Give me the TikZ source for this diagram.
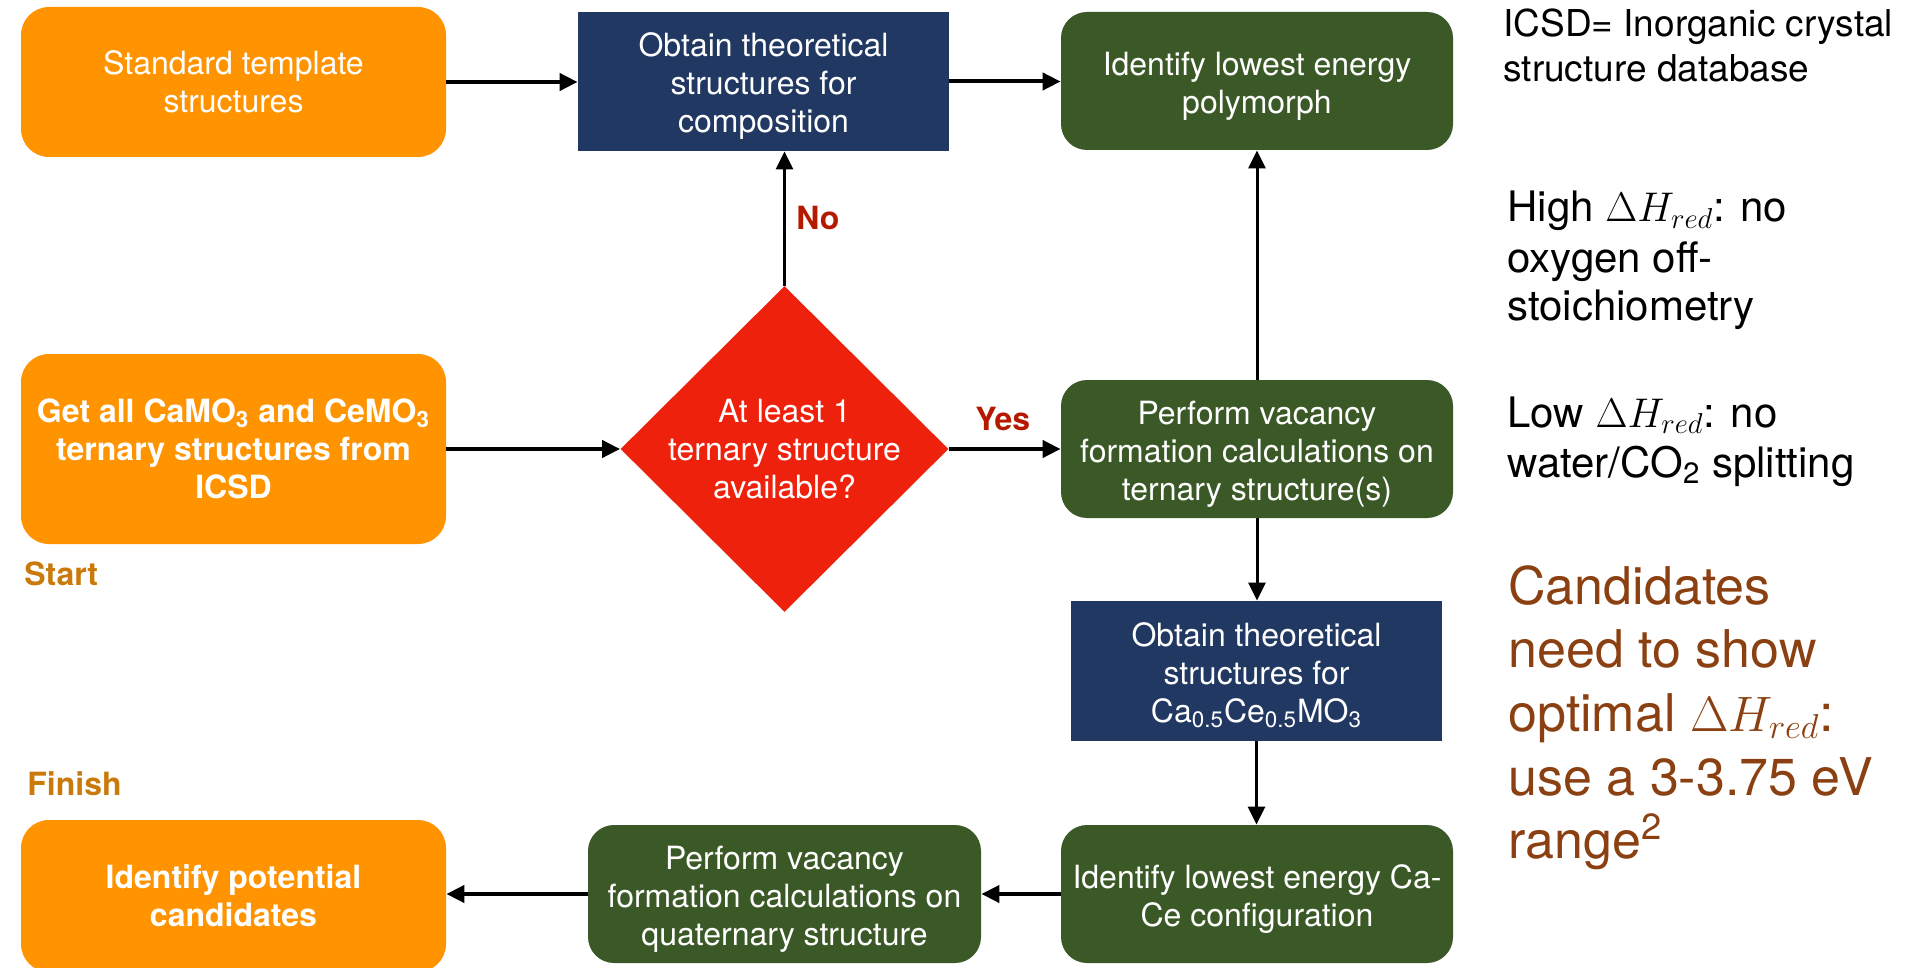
\documentclass[tikz,border=0pt]{standalone}
\usepackage{fontspec}
\setmainfont{TeX Gyre Heros}
\usetikzlibrary{arrows.meta,shapes.geometric}
\definecolor{corange}{HTML}{FF9300}
\definecolor{cblue}{HTML}{213862}
\definecolor{cgreen}{HTML}{3B5926}
\definecolor{cred}{HTML}{EE220C}
\definecolor{clabel}{HTML}{B51A00}
\definecolor{cstart}{HTML}{C97A0A}
\definecolor{cbrown}{HTML}{8B4011}
\newcommand\bxf{\fontsize{16}{19}\selectfont}
\newcommand\icsdf{\fontsize{18.5}{22.5}\selectfont}
\newcommand\hlf{\fontsize{21}{25}\selectfont}
\newcommand\candf{\fontsize{26}{31.5}\selectfont}
\newcommand\tstr{\rule{0pt}{16.5pt}}
\begin{document}
\begin{tikzpicture}[x=0.5pt,y=-0.5pt,
  base/.style={inner sep=0pt, text=white, align=center, font=\bxf},
  obox/.style={base, fill=corange, rounded corners=14pt},
  bbox/.style={base, fill=cblue},
  gbox/.style={base, fill=cgreen, rounded corners=13pt},
  arr/.style={draw=black, line width=2pt, -{Triangle[length=9pt,width=8.5pt]}},
  varr/.style={draw=black, line width=1.5pt, -{Triangle[length=9pt,width=8.5pt]}},
  lbl/.style={inner sep=0pt, anchor=base west, font=\bxf\bfseries},
  rtext/.style={inner sep=0pt, anchor=base west}]
\useasboundingbox (0,0) rectangle (1905,968);
\clip (0,0) rectangle (1905,968);
\fill[white] (0,0) rectangle (1905,968);

% boxes
\node[obox, minimum width=212.5pt, minimum height=75pt] (std) at (233.5,82) {Standard template\\structures};
\node[obox, minimum width=212.5pt, minimum height=95pt, font=\bxf\bfseries] (getall) at (233.5,449) {Get all CaMO\textsubscript{3} and CeMO\textsubscript{3}\\ternary structures from\\ICSD};
\node[obox, minimum width=212.5pt, minimum height=76pt, font=\bxf\bfseries] (cand) at (233.5,896) {Identify potential\\candidates};
\node[bbox, minimum width=185.5pt, minimum height=69.5pt] (obt1) at (763.5,81.5) {\tstr Obtain theoretical\\structures for\\composition};
\node[gbox, minimum width=196pt, minimum height=69pt] (poly) at (1257,81) {\tstr Identify lowest energy\\polymorph};
\node[diamond, fill=cred, inner sep=0pt, minimum width=164pt, minimum height=163pt] (dia) at (784.5,449) {};
\node[base] (diatext) at (784.5,449) {At least 1\\ternary structure\\available?};
\node[gbox, minimum width=196pt, minimum height=69pt] (tern) at (1257,449) {\tstr Perform vacancy\\formation calculations on\\ternary structure(s)};
\node[bbox, minimum width=185.5pt, minimum height=70pt] (obt2) at (1256.5,671) {\tstr Obtain theoretical\\structures for\\Ca\textsubscript{0.5}Ce\textsubscript{0.5}MO\textsubscript{3}};
\node[gbox, minimum width=196pt, minimum height=69pt] (cace) at (1257,894) {\tstr Identify lowest energy Ca-\\Ce configuration};
\node[gbox, minimum width=196.5pt, minimum height=69pt] (quat) at (784.5,894) {\tstr Perform vacancy\\formation calculations on\\quaternary structure};

% connectors
\draw[arr] (std.east) -- (std.east -| obt1.west);
\draw[arr] (obt1.east) -- (obt1.east -| poly.west);
\draw[arr] (getall.east) -- (dia.west);
\draw[arr] (dia.east) -- (tern.west);
\draw[varr] (dia.north) -- (dia.north |- obt1.south);
\draw[varr] (tern.north) -- (poly.south);
\draw[varr] (tern.south) -- (tern.south |- obt2.north);
\draw[varr] (obt2.south) -- (obt2.south |- cace.north);
\draw[arr] (cace.west) -- (quat.east);
\draw[arr] (quat.west) -- (quat.west -| cand.east);

% labels
\node[lbl, text=clabel] (no) at (796,230) {No};
\node[lbl, text=clabel] (yes) at (975,430) {Yes};
\node[lbl, text=cstart] (start) at (24,585) {Start};
\node[lbl, text=cstart] (finish) at (27,795) {Finish};

% right-hand notes
\node[rtext, font=\icsdf] (icsd1) at (1503,37) {ICSD= Inorganic crystal};
\node[rtext, font=\icsdf] (icsd2) at (1503,82) {structure database};
\node[rtext, font=\hlf] (high1) at (1507,222) {High $\Delta H_{red}$: no};
\node[rtext, font=\hlf] (high2) at (1507,272) {oxygen off-};
\node[rtext, font=\hlf] (high3) at (1507,321) {stoichiometry};
\node[rtext, font=\hlf] (low1) at (1507,427) {Low $\Delta H_{red}$: no};
\node[rtext, font=\hlf] (low2) at (1507,477) {water/CO\textsubscript{2} splitting};
\node[rtext, font=\candf, text=cbrown] (c1) at (1508,604) {Candidates};
\node[rtext, font=\candf, text=cbrown] (c2) at (1508,667) {need to show};
\node[rtext, font=\candf, text=cbrown] (c3) at (1508,731) {optimal $\Delta H_{red}$:};
\node[rtext, font=\candf, text=cbrown] (c4) at (1508,795) {use a 3-3.75 eV};
\node[rtext, font=\candf, text=cbrown] (c5) at (1508,858) {range\textsuperscript{2}};
\end{tikzpicture}
\end{document}
